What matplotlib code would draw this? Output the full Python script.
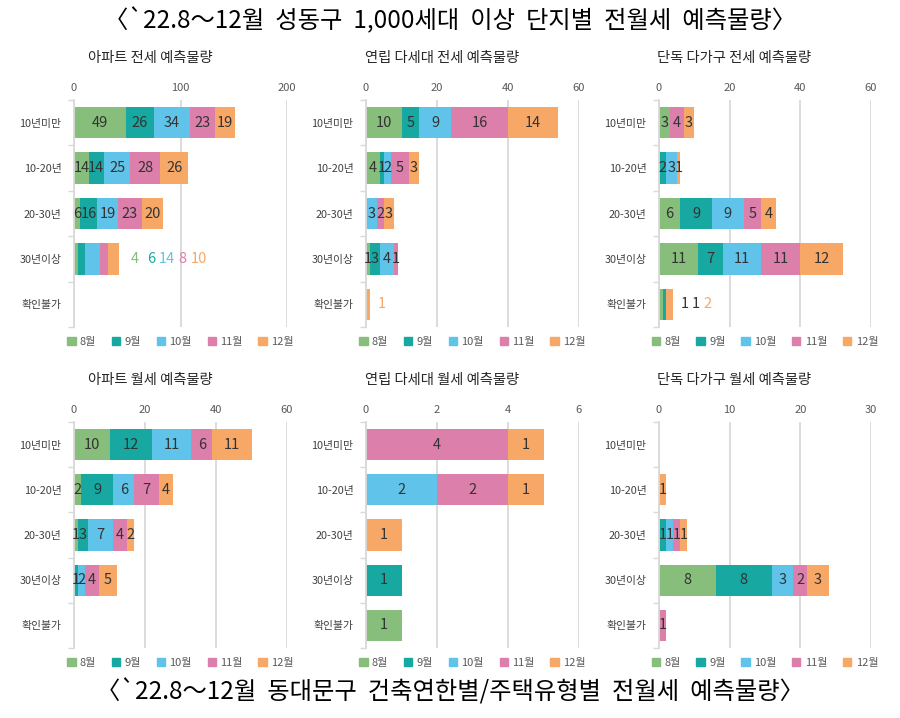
import numpy as np
import matplotlib.pyplot as plt
from matplotlib.patches import Patch

plt.rcParams['font.family'] = ['Noto Sans CJK KR', 'DejaVu Sans']

categories = ['10년미만', '10-20년', '20-30년', '30년이상', '확인불가']
months = ['8월', '9월', '10월', '11월', '12월']
colors = ['#87be7c', '#16a8a1', '#60c3ea', '#dc7fab', '#f7a867']

# rows: age band, columns: 8~12월
apt_jeonse = [[49, 26, 34, 23, 19], [14, 14, 25, 28, 26], [6, 16, 19, 23, 20],
              [4, 6, 14, 8, 10], [0, 0, 0, 0, 0]]
villa_jeonse = [[10, 5, 9, 16, 14], [4, 1, 2, 5, 3], [0, 0, 3, 2, 3],
                [1, 3, 4, 1, 0], [0, 0, 0, 0, 1]]
house_jeonse = [[3, 0, 0, 4, 3], [0, 2, 3, 0, 1], [6, 9, 9, 5, 4],
                [11, 7, 11, 11, 12], [1, 1, 0, 0, 2]]
apt_wolse = [[10, 12, 11, 6, 11], [2, 9, 6, 7, 4], [1, 3, 7, 4, 2],
             [0, 1, 2, 4, 5], [0, 0, 0, 0, 0]]
villa_wolse = [[0, 0, 0, 4, 1], [0, 0, 2, 2, 1], [0, 0, 0, 0, 1],
               [0, 1, 0, 0, 0], [1, 0, 0, 0, 0]]
house_wolse = [[0, 0, 0, 0, 0], [0, 0, 0, 0, 1], [0, 1, 1, 1, 1],
               [8, 8, 3, 2, 3], [0, 0, 0, 1, 0]]

titles = ['아파트 전세 예측물량', '연립 다세대 전세 예측물량', '단독 다가구 전세 예측물량',
          '아파트 월세 예측물량', '연립 다세대 월세 예측물량', '단독 다가구 월세 예측물량']
datasets = [apt_jeonse, villa_jeonse, house_jeonse, apt_wolse, villa_wolse, house_wolse]
xlims = [200, 60, 60, 60, 6, 30]
xsteps = [100, 20, 20, 20, 2, 10]

# rows whose labels are written outside the bar: {panel: (row, text colours or None)}
outside = {0: (3, None), 1: (4, None), 2: (4, ['#333333', '#333333', None, None, None])}

W, H = 900, 718
col_x = [(74, 287), (366, 579), (659, 871)]
row_y = [(100, 327), (422, 648)]
title_x = [88, 365, 657]
title_y = [58, 380]

fig = plt.figure(figsize=(W / 100, H / 100), dpi=100)

for i, data in enumerate(datasets):
    r, c = divmod(i, 3)
    x0, x1 = col_x[c]
    y0, y1 = row_y[r]
    ax = fig.add_axes([x0 / W, 1 - y1 / H, (x1 - x0) / W, (y1 - y0) / H])
    vals = np.array(data, dtype=float)
    ypos = np.arange(len(categories))
    left = np.zeros(len(categories))
    out_row = outside.get(i, (None, None))[0]
    for m in range(len(months)):
        ax.barh(ypos, vals[:, m], left=left, height=0.69, color=colors[m], lw=0)
        for k in ypos:
            v = vals[k, m]
            if v > 0 and k != out_row:
                ax.text(left[k] + v / 2, k, f'{v:g}', ha='center', va='center',
                        fontsize=10.5, color='#333333')
        left += vals[:, m]

    if out_row is not None:
        tcols = outside[i][1] or [None] * 5
        dx = 16 if i == 0 else 12
        step = 16 if i == 0 else 11
        n = 0
        for m in range(len(months)):
            v = vals[out_row, m]
            if v <= 0:
                continue
            ax.annotate(f'{v:g}', (left[out_row], out_row),
                        xytext=(dx + n * step, 0),
                        textcoords='offset pixels', ha='center', va='center',
                        fontsize=10.5, color=tcols[m] or colors[m],
                        annotation_clip=False)
            n += 1

    ax.set_xlim(0, xlims[i])
    ax.set_ylim(len(categories) - 0.5, -0.5)
    ax.set_xticks(np.arange(0, xlims[i] + 1, xsteps[i]))
    ax.set_yticks(ypos)
    ax.set_yticklabels(categories)
    ax.set_yticks(np.arange(-0.5, len(categories), 1), minor=True)
    ax.xaxis.tick_top()
    ax.tick_params(axis='x', length=0, labelsize=8, colors='#595959', pad=5)
    ax.tick_params(axis='y', which='major', length=0, labelsize=7.8,
                   colors='#404040', pad=9)
    ax.tick_params(axis='y', which='minor', length=4, color='#d9d9d9', width=1)
    ax.set_axisbelow(True)
    ax.xaxis.grid(True, color='#d9d9d9', lw=1.3)
    for s in ['top', 'right', 'bottom']:
        ax.spines[s].set_visible(False)
    ax.spines['left'].set_color('#d9d9d9')
    ax.spines['left'].set_linewidth(1.3)

    handles = [Patch(color=colors[m], label=months[m]) for m in range(len(months))]
    ax.legend(handles=handles, ncol=5, loc='center', bbox_to_anchor=(0.5, -15 / (y1 - y0)),
              frameon=False, fontsize=8, handlelength=0.75, handleheight=0.75,
              handletextpad=0.4, columnspacing=1.4, labelcolor='#595959')

    fig.text(title_x[c] / W, 1 - title_y[r] / H, titles[i], ha='left', va='center',
             fontsize=10.3, color='#262626')

fig.text(0.5, 1 - 21 / H, "〈`22.8～12월  성동구  1,000세대  이상  단지별  전월세  예측물량〉",
         ha='center', va='center', fontsize=17.5, color='black')
fig.text(0.5, 1 - 692 / H, "〈`22.8～12월  동대문구  건축연한별/주택유형별  전월세  예측물량〉",
         ha='center', va='center', fontsize=17.5, color='black')

fig.savefig('out.png', dpi=100)
